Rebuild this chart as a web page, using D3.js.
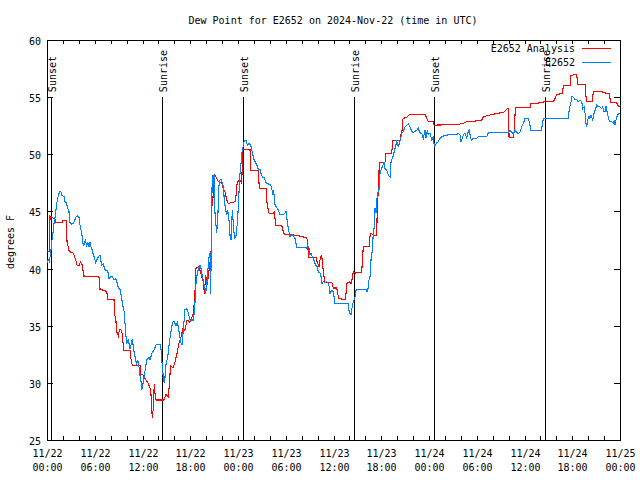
<!DOCTYPE html>
<html><head><meta charset="utf-8">
<script src="https://cdn.jsdelivr.net/npm/d3@7"></script>
<style>
body{margin:0;background:#fff}
svg text{font-family:"DejaVu Sans Mono",monospace;font-size:10px;fill:#000}
</style>
</head><body>
<svg id="chart" width="640" height="480"></svg>
<script>
const chartTitle = "Dew Point for E2652 on 2024-Nov-22 (time in UTC)";
const yLabel = "degrees F";
const seriesNames = ["E2652 Analysis", "E2652"];
const startTime = "2024-11-22T00:00:00Z";
const xTickHours = [0, 6, 12, 18, 24, 30, 36, 42, 48, 54, 60, 66, 72];
const xMinorHours = d3.range(0, 73, 2);
const yTicks = [25, 30, 35, 40, 45, 50, 55, 60];
const eventLabels = ["Sunset", "Sunrise", "Sunset", "Sunrise", "Sunset", "Sunrise"];
const eventHours = [0.50, 14.51, 24.63, 38.58, 48.63, 62.58];
const eventTop = 55;

const analysisHours = [
0, 0.31, 0.38, 0.59, 1.01, 1.13, 1.88, 1.92, 2.48, 2.51,
2.80, 3.30, 3.61, 3.77, 4.08, 4.18, 4.44, 4.61, 6.45, 6.57,
6.66, 7.50, 7.67, 8.42, 8.48, 8.67, 8.76, 8.96, 9.11, 9.39,
9.59, 9.68, 10.43, 10.52, 10.72, 11.69, 11.75, 12.06, 12.44, 12.73,
13.03, 13.23, 13.36, 13.48, 13.57, 13.70, 14.70, 14.95, 15.24, 15.39,
15.52, 15.83, 16.08, 16.34, 16.59, 16.84, 17.09, 17.34, 17.59, 17.97,
18.35, 18.53, 18.60, 18.69, 19.14, 19.23, 19.44, 19.64, 19.77, 19.94,
20.14, 20.27, 20.48, 20.61, 20.70, 20.82, 20.99, 21.11, 21.32, 21.53,
21.95, 22.15, 22.37, 22.58, 22.78, 23.62, 23.75, 23.91, 24.25, 24.47,
24.59, 25.51, 25.63, 26.55, 26.68, 27.52, 27.61, 27.81, 27.93, 28.44,
28.56, 28.74, 29.49, 29.62, 29.82, 31.58, 31.70, 32.63, 32.76, 32.84,
33.80, 33.97, 34.18, 34.34, 34.52, 34.64, 34.81, 34.93, 35.78, 35.98,
36.40, 36.53, 36.69, 37.45, 37.57, 37.66, 38.07, 38.20, 38.36, 38.49,
38.70, 39.55, 39.67, 39.75, 40.46, 40.59, 40.71, 41.00, 41.43, 41.51,
41.63, 41.76, 42.47, 42.60, 43.32, 43.44, 44.36, 44.48, 44.57, 44.70,
44.77, 45.11, 45.61, 47.50, 47.79, 47.91, 48.54, 48.63, 51.48, 52.31,
52.74, 53.78, 54.62, 54.83, 55.46, 56.71, 57.34, 57.84, 57.97, 58.06,
58.60, 58.72, 58.85, 60.69, 60.76, 61.54, 62.58, 63.62, 63.84, 64.05,
64.75, 64.88, 65.72, 65.85, 66.56, 66.69, 67.61, 67.69, 67.82, 68.52,
68.65, 69.70, 69.90, 70.66, 70.83, 71.59, 71.79, 72.00];
const analysisValues = [
41.5, 41.5, 44.6, 44.5, 44.3, 44.0, 44.0, 44.2, 44.2, 42.4,
41.5, 41.35, 40.75, 40.3, 40.3, 40.6, 40.3, 39.35, 39.3, 39.2,
38.2, 38.0, 37.3, 37.3, 36.1, 35.35, 34.5, 34.1, 34.7, 34.6,
33.3, 32.8, 32.8, 32.2, 31.5, 31.5, 30.7, 30.7, 30.25, 29.95,
29.4, 26.9, 27.8, 29.9, 29.1, 28.5, 28.5, 29.0, 28.8, 30.0,
31.5, 31.3, 31.8, 32.6, 33.5, 34.0, 34.8, 34.6, 35.5, 35.3,
36.0, 37.1, 38.0, 40.0, 40.2, 39.8, 39.3, 38.85, 37.8, 39.4,
38.6, 39.4, 40.5, 41.3, 45.4, 45.7, 48.2, 48.2, 47.9, 47.6,
47.5, 47.0, 46.7, 46.0, 45.7, 45.85, 46.4, 47.6, 47.75, 47.5,
50.4, 50.4, 48.6, 48.6, 47.0, 47.0, 45.9, 45.1, 44.8, 44.8,
45.0, 43.8, 43.8, 43.4, 43.0, 42.9, 42.85, 42.7, 42.35, 41.0,
41.0, 40.5, 40.2, 40.9, 41.2, 40.2, 39.3, 38.8, 38.8, 38.3,
38.3, 37.8, 37.4, 37.25, 37.8, 38.7, 38.85, 38.7, 39.15, 39.7,
39.6, 39.7, 41.2, 41.9, 41.9, 42.8, 43.1, 42.9, 42.9, 45.7,
46.7, 49.3, 49.3, 50.1, 50.1, 51.2, 51.2, 51.7, 51.7, 53.0,
53.15, 53.2, 53.5, 53.5, 53.05, 52.85, 52.85, 52.55, 52.6, 52.7,
52.85, 52.9, 53.0, 53.3, 53.4, 53.6, 53.65, 54.0, 54.0, 51.5,
51.5, 52.1, 54.1, 54.1, 54.4, 54.45, 54.6, 54.6, 54.9, 55.25,
55.3, 56.0, 56.0, 56.9, 57.0, 56.1, 56.1, 55.3, 54.6, 54.6,
55.5, 55.5, 55.4, 55.3, 54.5, 54.5, 54.2, 54.2];

const obsHours = [
0.04, 0.16, 0.29, 0.50, 0.59, 0.72, 0.79, 1.01, 1.22, 1.42,
1.63, 1.76, 1.85, 2.17, 2.26, 2.48, 2.55, 2.76, 2.89, 3.10,
3.30, 3.43, 3.61, 3.81, 4.02, 4.15, 4.27, 4.36, 4.44, 4.56,
4.69, 4.81, 4.99, 5.11, 5.28, 5.40, 5.53, 5.69, 5.82, 5.94,
6.12, 6.25, 6.45, 6.66, 6.75, 6.87, 7.07, 7.29, 7.63, 7.79,
8.04, 8.26, 8.42, 8.63, 8.83, 8.96, 9.17, 9.39, 9.59, 9.71,
9.80, 9.89, 10.02, 10.14, 10.22, 10.34, 10.43, 10.56, 10.72, 10.84,
10.97, 11.15, 11.27, 11.40, 11.56, 11.69, 11.81, 11.90, 12.03, 12.19,
12.31, 12.44, 12.53, 12.65, 12.82, 12.94, 13.07, 13.23, 13.36, 13.48,
13.66, 14.20, 14.33, 14.41, 14.54, 14.61, 14.74, 14.83, 14.95, 15.17,
15.37, 15.58, 15.77, 15.96, 16.21, 16.40, 16.59, 16.78, 16.96, 17.15,
17.34, 17.55, 17.76, 17.97, 18.38, 18.51, 18.60, 18.72, 18.89, 19.01,
19.14, 19.23, 19.35, 19.44, 19.57, 19.64, 19.73, 19.85, 19.94, 20.07,
20.14, 20.27, 20.39, 20.48, 20.57, 20.70, 20.77, 20.90, 20.99, 21.11,
21.24, 21.32, 21.45, 21.61, 21.74, 21.86, 22.03, 22.15, 22.28, 22.41,
22.58, 22.71, 22.87, 23.00, 23.12, 23.21, 23.28, 23.41, 23.54, 23.62,
23.75, 23.91, 24.04, 24.16, 24.25, 24.38, 24.47, 24.59, 24.76, 24.88,
25.01, 25.17, 25.38, 25.60, 25.72, 25.85, 25.92, 26.14, 26.35, 26.55,
26.77, 26.89, 27.10, 27.31, 27.52, 27.81, 28.11, 28.24, 28.36, 28.44,
28.56, 28.65, 28.86, 29.07, 29.28, 29.69, 29.91, 30.03, 30.12, 30.25,
30.41, 30.54, 30.75, 30.95, 31.16, 31.38, 32.63, 32.76, 32.92, 33.05,
33.17, 33.34, 33.46, 33.59, 33.77, 33.97, 34.09, 34.31, 34.43, 34.56,
34.72, 34.93, 35.15, 35.35, 35.47, 35.56, 35.78, 35.98, 36.19, 37.86,
37.99, 38.20, 38.36, 38.49, 38.70, 38.83, 38.92, 40.09, 40.17, 40.30,
40.46, 40.59, 40.71, 40.88, 41.00, 41.13, 41.22, 41.34, 41.43, 41.56,
41.72, 41.76, 41.93, 42.06, 42.18, 42.35, 42.47, 42.69, 42.89, 43.10,
43.19, 43.32, 43.52, 43.73, 43.94, 44.15, 44.27, 44.45, 44.57, 44.77,
44.99, 45.20, 45.40, 45.61, 45.83, 46.03, 46.24, 46.46, 46.66, 46.78,
46.96, 47.08, 47.29, 47.50, 47.63, 47.79, 47.91, 48.13, 48.34, 48.54,
48.67, 48.84, 48.97, 49.17, 49.38, 49.60, 49.80, 50.43, 51.48, 51.68,
51.90, 52.02, 52.19, 52.31, 52.53, 52.74, 52.94, 53.07, 53.24, 53.37,
53.57, 54.00, 54.20, 55.25, 55.45, 57.97, 58.18, 58.40, 58.60, 58.81,
59.02, 59.22, 59.44, 59.65, 59.85, 60.07, 60.48, 60.69, 60.82, 62.08,
62.24, 62.37, 65.51, 65.63, 65.81, 65.97, 66.14, 66.35, 66.56, 66.76,
66.98, 67.19, 67.32, 67.48, 67.61, 67.73, 67.82, 67.94, 68.11, 68.23,
68.36, 68.57, 68.74, 68.95, 69.08, 69.28, 69.49, 69.70, 69.83, 69.99,
70.12, 70.24, 70.41, 70.62, 70.75, 70.96, 71.16, 71.29, 71.38, 71.50,
71.67, 71.84, 72.00];
const obsValues = [
40.5, 40.8, 40.6, 41.6, 42.35, 42.8, 43.5, 44.5, 45.7, 46.4,
46.8, 46.7, 46.4, 46.3, 45.85, 45.7, 45.35, 45.0, 44.0, 43.9,
43.95, 44.1, 44.5, 44.6, 44.5, 43.8, 43.4, 43.2, 42.65, 42.0,
42.1, 42.45, 42.0, 42.35, 41.9, 42.3, 41.9, 41.6, 41.2, 41.0,
40.5, 40.75, 41.0, 41.2, 40.8, 40.3, 40.4, 39.9, 39.8, 39.15,
39.3, 39.25, 39.0, 39.15, 38.7, 38.3, 38.2, 37.4, 36.5, 36.2,
35.2, 34.3, 33.5, 33.6, 33.8, 33.3, 33.0, 33.3, 33.8, 33.2,
32.6, 32.0, 31.6, 32.0, 31.4, 30.6, 30.1, 29.4, 29.8, 30.5,
31.0, 31.6, 32.0, 32.15, 32.2, 32.0, 32.3, 32.7, 32.75, 32.9,
33.3, 33.4, 32.9, 32.0, 31.3, 30.4, 29.95, 30.5, 31.6, 32.3,
33.5, 34.5, 35.3, 35.4, 35.0, 35.3, 34.5, 33.6, 33.3, 34.8,
36.4, 36.5, 36.1, 35.5, 35.5, 36.2, 37.1, 38.7, 39.6, 39.9,
40.2, 40.3, 40.0, 39.6, 39.15, 39.0, 38.55, 38.3, 37.8, 38.55,
39.3, 40.3, 41.2, 41.3, 37.8, 45.6, 48.2, 47.3, 48.2, 44.8,
43.7, 43.1, 44.25, 47.3, 47.75, 47.8, 47.5, 47.2, 46.0, 45.3,
44.7, 45.1, 44.25, 42.9, 42.5, 43.7, 45.1, 43.95, 42.8, 42.65,
42.9, 43.95, 45.4, 47.2, 48.3, 49.2, 50.1, 50.5, 51.1, 51.2,
51.25, 50.8, 50.95, 50.8, 50.4, 50.1, 49.65, 49.35, 49.1, 48.7,
48.65, 48.3, 48.0, 47.95, 47.5, 47.4, 47.3, 47.0, 46.6, 46.75,
46.4, 45.6, 45.35, 45.1, 44.7, 44.7, 44.85, 45.0, 44.55, 43.8,
43.2, 42.8, 43.0, 42.85, 42.65, 41.85, 41.8, 42.0, 41.8, 41.2,
41.35, 41.05, 40.9, 40.6, 40.3, 40.15, 39.7, 39.6, 39.3, 38.7,
38.85, 38.8, 38.85, 38.7, 38.4, 37.8, 38.1, 37.95, 36.95, 36.95,
36.1, 36.0, 36.7, 37.1, 37.5, 38.1, 38.2, 38.2, 38.0, 38.0,
39.0, 39.3, 40.75, 41.6, 43.1, 43.7, 45.3, 44.9, 46.0, 46.6,
46.9, 48.0, 48.6, 48.75, 49.0, 49.35, 48.75, 48.6, 48.2, 48.0,
49.2, 49.5, 49.9, 50.5, 51.1, 50.7, 50.9, 51.4, 51.8, 52.0,
52.4, 52.55, 52.65, 52.4, 52.0, 51.9, 52.0, 52.1, 52.3, 52.0,
51.8, 51.85, 51.4, 52.1, 51.4, 52.1, 51.7, 51.85, 51.25, 51.5,
50.7, 50.85, 51.0, 51.1, 51.4, 51.55, 51.6, 51.7, 51.7, 51.85,
51.7, 51.1, 51.4, 51.7, 51.85, 51.4, 52.0, 52.1, 51.4, 51.25,
51.4, 51.4, 51.55, 51.55, 51.9, 51.9, 52.1, 51.95, 51.8, 52.1,
51.95, 51.8, 51.95, 52.4, 52.7, 53.15, 53.15, 52.55, 52.1, 52.1,
52.55, 53.15, 53.15, 54.0, 54.45, 55.05, 55.0, 54.75, 54.8, 54.6,
54.75, 54.6, 54.0, 54.15, 53.6, 52.7, 52.4, 53.0, 53.3, 53.15,
53.4, 53.0, 53.6, 54.0, 54.3, 54.15, 54.15, 54.0, 54.15, 53.7,
53.75, 54.2, 53.6, 53.0, 52.85, 52.85, 52.7, 53.0, 52.55, 53.0,
53.4, 53.6, 53.6];

const colors = ["#ff0000", "#0080ff"];

const t0 = new Date(startTime);
const toDate = h => new Date(t0.getTime() + h * 3600e3);
const L = 47, R = 620, T = 40, B = 440;
const x = d3.scaleUtc().domain([toDate(0), toDate(72)]).range([L, R]);
const y = d3.scaleLinear().domain([25, 60]).range([B, T]);

const svg = d3.select("#chart");
svg.append("rect").attr("width", 640).attr("height", 480).attr("fill", "#fff");

const g = svg.append("g").attr("shape-rendering", "crispEdges");

// y ticks (left & right, inward)
yTicks.forEach(v => {
  const yy = Math.round(y(v)) + 0.5;
  g.append("line").attr("x1", L).attr("x2", L + 6).attr("y1", yy).attr("y2", yy).attr("stroke", "#000");
  g.append("line").attr("x1", R - 6).attr("x2", R).attr("y1", yy).attr("y2", yy).attr("stroke", "#000");
  svg.append("text").attr("x", L - 6).attr("y", yy + 4).attr("text-anchor", "end").text(v);
});

// x ticks (bottom & top, inward)
xMinorHours.forEach(h => {
  const xx = Math.round(x(toDate(h))) + 0.5;
  g.append("line").attr("x1", xx).attr("x2", xx).attr("y1", B).attr("y2", B - 4).attr("stroke", "#000");
  g.append("line").attr("x1", xx).attr("x2", xx).attr("y1", T).attr("y2", T + 4).attr("stroke", "#000");
});
const fmtD = d3.utcFormat("%m/%d"), fmtT = d3.utcFormat("%H:%M");
xTickHours.forEach(h => {
  const d = toDate(h), xx = Math.round(x(d)) + 0.5;
  svg.append("text").attr("x", xx).attr("y", 457).attr("text-anchor", "middle").text(fmtD(d));
  svg.append("text").attr("x", xx).attr("y", 471).attr("text-anchor", "middle").text(fmtT(d));
});

// border
g.append("rect").attr("x", L + 0.5).attr("y", T + 0.5).attr("width", R - L).attr("height", B - T)
  .attr("fill", "none").attr("stroke", "#000");

// sunrise / sunset lines
eventHours.forEach((h, i) => {
  const xx = Math.round(x(toDate(h))) + 0.5;
  g.append("line").attr("x1", xx).attr("x2", xx).attr("y1", y(25)).attr("y2", y(eventTop)).attr("stroke", "#000");
  svg.append("text").attr("transform", `translate(${xx + 4},${y(eventTop) - 5}) rotate(-90)`)
    .attr("text-anchor", "start").text(eventLabels[i]);
});

// data lines
const line = d3.line().x(d => x(d[0])).y(d => y(d[1]));
const analysis = analysisHours.map((h, i) => [toDate(h), analysisValues[i]]).filter(d => d[1] != null);
const obs = obsHours.map((h, i) => [toDate(h), obsValues[i]]).filter(d => d[1] != null);
[analysis, obs].forEach((data, i) => {
  svg.append("path").datum(data).attr("d", line).attr("fill", "none")
    .attr("stroke", colors[i]).attr("stroke-width", 1.1).attr("shape-rendering", "crispEdges");
});

// legend
[48, 62].forEach((ly, i) => {
  svg.append("text").attr("x", 575).attr("y", ly + 4).attr("text-anchor", "end").text(seriesNames[i]);
  g.append("line").attr("x1", 582).attr("x2", 611).attr("y1", ly + 0.5).attr("y2", ly + 0.5).attr("stroke", colors[i]);
});

// title and y label
svg.append("text").attr("x", 333).attr("y", 24).attr("text-anchor", "middle").text(chartTitle);
svg.append("text").attr("transform", "translate(14,242) rotate(-90)").attr("text-anchor", "middle").text(yLabel);
</script>
</body></html>
